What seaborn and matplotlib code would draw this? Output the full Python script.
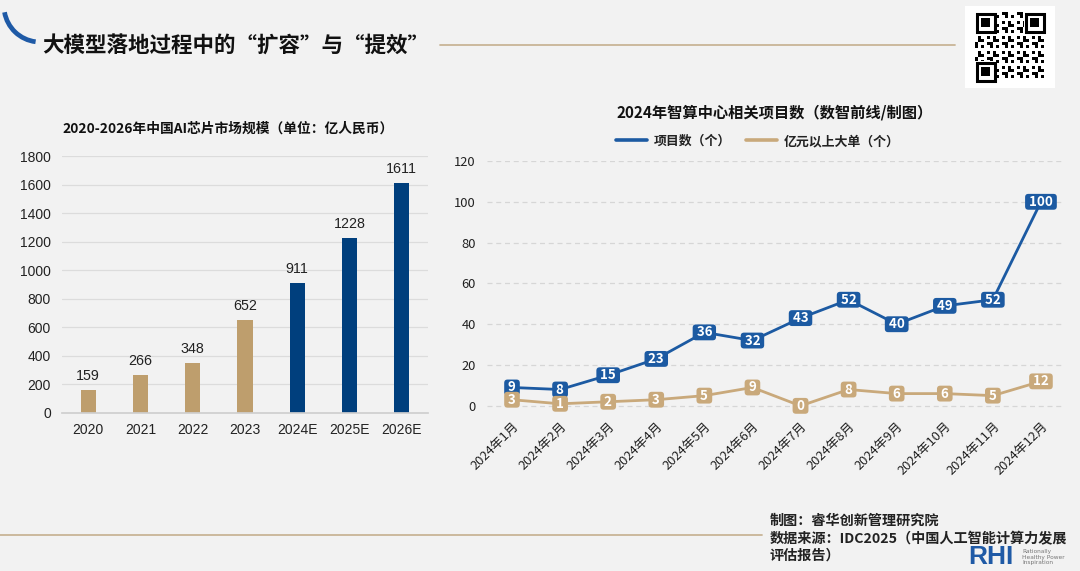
import numpy as np
import pandas as pd
import matplotlib
matplotlib.use("Agg")
import matplotlib.pyplot as plt
from matplotlib.patches import Arc, Rectangle
import seaborn as sns

# --- data ---
years = ["2020", "2021", "2022", "2023", "2024E", "2025E", "2026E"]
market = [159, 266, 348, 652, 911, 1228, 1611]

months = ["2024年1月", "2024年2月", "2024年3月", "2024年4月", "2024年5月", "2024年6月",
          "2024年7月", "2024年8月", "2024年9月", "2024年10月", "2024年11月", "2024年12月"]
projects = [9, 8, 15, 23, 36, 32, 43, 52, 40, 49, 52, 100]
big_orders = [3, 1, 2, 3, 5, 9, 0, 8, 6, 6, 5, 12]

# --- colours ---
BG = "#F2F2F2"
TAN = "#BE9E6D"
NAVY = "#003F7D"
BLUE = "#1C5AA2"
TAN_L = "#C9A97B"
LINE_TAN = "#C8B497"

sns.set_theme(style="white")
plt.rcParams["font.family"] = ["Noto Sans CJK SC", "DejaVu Sans"]

W, H = 1080, 571
fig = plt.figure(figsize=(W / 100, H / 100), dpi=100, facecolor=BG)


def box(x0, y0, x1, y1):
    # pixel box (top-left origin) -> figure fraction rect
    return [x0 / W, 1 - y1 / H, (x1 - x0) / W, (y1 - y0) / H]


def fx(x):
    return x / W


def fy(y):
    return 1 - y / H


# ---------- header / footer decoration ----------
deco = fig.add_axes([0, 0, 1, 1], facecolor="none")
deco.set_xlim(0, W)
deco.set_ylim(H, 0)
deco.axis("off")
deco.add_patch(Arc((40, 6), 72, 72, theta1=97, theta2=170, color="#1F5AA6", lw=3.4))
deco.plot([440, 955], [45, 45], color=LINE_TAN, lw=1.3)
deco.plot([0, 762], [535, 535], color=LINE_TAN, lw=1.3)

# QR-ish block
deco.add_patch(Rectangle((965, 6), 90, 82, facecolor="white", edgecolor="none"))
cell = 3.0
for i in range(23):
    for j in range(23):
        if ((i * 7 + j * 3 + i * j) % 5) in (0, 2):
            deco.add_patch(Rectangle((975 + j * cell, 12 + i * cell), cell, cell,
                                     facecolor="black", edgecolor="none"))
for (qx, qy) in [(975, 12), (1024, 12), (975, 61)]:
    deco.add_patch(Rectangle((qx, qy), 21, 21, facecolor="white", edgecolor="none"))
    deco.add_patch(Rectangle((qx + 1.5, qy + 1.5), 18, 18, facecolor="none", edgecolor="black", lw=2.2))
    deco.add_patch(Rectangle((qx + 6, qy + 6), 9, 9, facecolor="black", edgecolor="none"))

fig.text(fx(42), fy(46), "大模型落地过程中的“扩容”与“提效”", fontsize=15.5, fontweight="heavy",
         color="#111111", va="center", ha="left")

fig.text(fx(770), fy(521), "制图：睿华创新管理研究院", fontsize=10.2, fontweight="bold",
         color="#222222", va="center")
fig.text(fx(770), fy(539), "数据来源：IDC2025（中国人工智能计算力发展", fontsize=10.2,
         fontweight="bold", color="#222222", va="center")
fig.text(fx(770), fy(556), "评估报告）", fontsize=10.2, fontweight="bold", color="#222222", va="center")
fig.text(fx(968), fy(557), "RHI", fontsize=19, fontweight="bold", color="#1F5AA6",
         family=["Liberation Sans"], va="center", ha="left")
fig.text(fx(1022), fy(557), "Rationally\nHealthy Power\nInspiration", fontsize=4.2,
         color="#777777", va="center", ha="left", linespacing=1.1, family=["DejaVu Sans"])

# ---------- left: bar chart ----------
ax1 = fig.add_axes(box(62, 156, 428, 413), facecolor="none")
bar_df = pd.DataFrame({"year": years, "value": market})
sns.barplot(data=bar_df, x="year", y="value", hue="year",
            palette=[TAN] * 4 + [NAVY] * 3, width=0.29, legend=False, ax=ax1,
            edgecolor="none", saturation=1)
ax1.set_ylim(0, 1800)
ax1.set_xlim(-0.5, 6.5)
ax1.set_yticks(range(0, 1801, 200))
ax1.yaxis.grid(True, color="#DCDCDC", lw=0.9)
ax1.set_axisbelow(True)
for s in ["top", "right", "left"]:
    ax1.spines[s].set_visible(False)
ax1.spines["bottom"].set_color("#CFCFCF")
ax1.set_xlabel("")
ax1.set_ylabel("")
ax1.tick_params(axis="both", length=0, labelsize=10, colors="#222222")
ax1.tick_params(axis="y", pad=8)
ax1.tick_params(axis="x", pad=7)
for lab in ax1.get_xticklabels() + ax1.get_yticklabels():
    lab.set_family(["Liberation Sans", "DejaVu Sans"])
for i, v in enumerate(market):
    ax1.annotate(str(v), (i, v), xytext=(0, 5), textcoords="offset points",
                 ha="center", va="bottom", fontsize=10.3, color="#222222",
                 family=["Liberation Sans", "DejaVu Sans"])
fig.text(fx(228), fy(129), "2020-2026年中国AI芯片市场规模（单位：亿人民币）", fontsize=9.9,
         fontweight="bold", ha="center", va="center", color="#111111")

# ---------- right: line chart ----------
ax2 = fig.add_axes(box(487, 161, 1065, 414), facecolor="none")
pos = np.arange(len(months))
line_df = pd.DataFrame({"pos": pos, "projects": projects, "big": big_orders})
sns.lineplot(data=line_df, x="pos", y="projects", color=BLUE, lw=2.0, ax=ax2,
             label="项目数（个）", legend=False)
sns.lineplot(data=line_df, x="pos", y="big", color=TAN_L, lw=2.0, ax=ax2,
             label="亿元以上大单（个）", legend=False)
ax2.set_xlim(-0.52, 11.5)
ax2.set_ylim(-4, 120)
ax2.set_yticks(range(0, 121, 20))
ax2.yaxis.grid(True, color="#D6D6D6", lw=0.9, ls=(0, (4, 3)))
ax2.set_axisbelow(True)
for s in ax2.spines.values():
    s.set_visible(False)
ax2.set_xlabel("")
ax2.set_ylabel("")
ax2.set_xticks(pos)
ax2.set_xticklabels(months, rotation=45, ha="right", rotation_mode="anchor")
ax2.tick_params(axis="both", length=0, labelsize=9.3, colors="#222222")
ax2.tick_params(axis="y", pad=8)
ax2.tick_params(axis="x", pad=4)

for series, col, z in [(projects, BLUE, 5), (big_orders, TAN_L, 6)]:
    for i, v in enumerate(series):
        ax2.text(i, v, f" {v} ", ha="center", va="center", fontsize=9.6, fontweight="bold",
                 color="white", zorder=z,
                 bbox=dict(boxstyle="round,pad=0.07,rounding_size=0.25", fc=col, ec="none"))

leg = ax2.legend(loc="center", bbox_to_anchor=(fx(758), fy(141)), bbox_transform=fig.transFigure,
                 ncol=2, frameon=False, fontsize=9.3, handlelength=2.4, columnspacing=1.2,
                 handletextpad=0.5)
for line in leg.get_lines():
    line.set_linewidth(2.6)
for t in leg.get_texts():
    t.set_fontweight("bold")
    t.set_color("#222222")
fig.text(fx(775), fy(113), "2024年智算中心相关项目数（数智前线/制图）", fontsize=11,
         fontweight="bold", ha="center", va="center", color="#111111")

fig.savefig("out.png", dpi=100, facecolor=BG)
